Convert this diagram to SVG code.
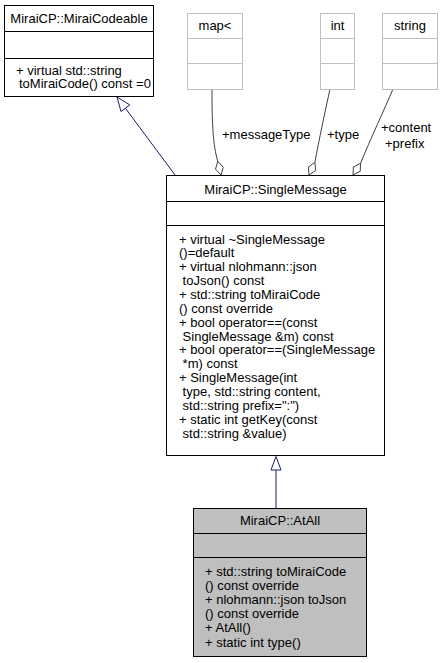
<svg xmlns="http://www.w3.org/2000/svg" width="443" height="663" viewBox="0 0 443 663">
<style>
  text { font-family: "Liberation Sans", Arial, sans-serif; font-size: 13px; fill: #000; }
  .c { text-anchor: middle; }
  .box { fill: #fff; stroke: #000; stroke-width: 1; }
  .cur { fill: #bfbfbf; stroke: #000; stroke-width: 1; }
  .ext { fill: #fff; stroke: #bfbfbf; stroke-width: 1; }
  .dv { stroke: #000; stroke-width: 1; }
  .dvg { stroke: #bfbfbf; stroke-width: 1; }
  .inh { fill: none; stroke: #191970; stroke-width: 1; }
  .inhh { fill: #fff; stroke: #191970; stroke-width: 1; }
  .agg { fill: none; stroke: #404040; stroke-width: 1; }
  .aggh { fill: #fff; stroke: #404040; stroke-width: 1; }
</style>
<rect width="443" height="663" fill="#fff"/>

<g id="connectors">
  <path class="inh" d="M125.4,108.2 L175,175"/>
  <polygon class="inhh" points="117,97 129.8,104.9 121,111.5"/>
  <path class="agg" d="M212,89 C212,125 213,145 217.8,161.4"/>
  <polygon class="aggh" points="221,175 223.3,167.3 217.8,161.4 215.5,169.1"/>
  <path class="agg" d="M330,89 C325,112 319,140 314.9,162.3"/>
  <polygon class="aggh" points="309,175 315.6,170.4 314.9,162.3 308.4,167"/>
  <path class="agg" d="M393,89 C385,108 370,140 360.6,163.2"/>
  <polygon class="aggh" points="353,175 360.2,171.3 360.6,163.2 353.4,167"/>
  <path class="inh" d="M276,470 L276,508"/>
  <polygon class="inhh" points="276,456.5 281,470 271,470"/>
  <text x="222" y="139">+messageType</text>
  <text x="327" y="139">+type</text>
  <text x="381" y="132">+content</text>
  <text x="385" y="147.5">+prefix</text>
</g>

<g id="MiraiCodeable">
  <rect class="box" x="4.5" y="5.5" width="149" height="91"/>
  <line class="dv" x1="4.5" y1="31.5" x2="153.5" y2="31.5"/>
  <line class="dv" x1="4.5" y1="58.5" x2="153.5" y2="58.5"/>
  <text class="c" x="79" y="22.5">MiraiCP::MiraiCodeable</text>
  <text x="16" y="74.5">+ virtual std::string</text>
  <text x="19" y="88">toMiraiCode() const =0</text>
</g>

<g id="map">
  <rect class="ext" x="187.5" y="13.5" width="55" height="76"/>
  <line class="dvg" x1="187.5" y1="38.5" x2="242.5" y2="38.5"/>
  <line class="dvg" x1="187.5" y1="63.5" x2="242.5" y2="63.5"/>
  <text class="c" x="215" y="30">map&lt;</text>
</g>

<g id="int">
  <rect class="ext" x="320.5" y="13.5" width="34" height="76"/>
  <line class="dvg" x1="320.5" y1="38.5" x2="354.5" y2="38.5"/>
  <line class="dvg" x1="320.5" y1="63.5" x2="354.5" y2="63.5"/>
  <text class="c" x="337.5" y="30">int</text>
</g>

<g id="string">
  <rect class="ext" x="382.5" y="13.5" width="55" height="76"/>
  <line class="dvg" x1="382.5" y1="38.5" x2="437.5" y2="38.5"/>
  <line class="dvg" x1="382.5" y1="63.5" x2="437.5" y2="63.5"/>
  <text class="c" x="410" y="30">string</text>
</g>

<g id="SingleMessage">
  <rect class="box" x="166.5" y="175.5" width="218" height="280"/>
  <line class="dv" x1="166.5" y1="201.5" x2="384.5" y2="201.5"/>
  <line class="dv" x1="166.5" y1="225.5" x2="384.5" y2="225.5"/>
  <text class="c" x="275.5" y="193.5">MiraiCP::SingleMessage</text>
  <text x="179" y="243.5">+ virtual ~SingleMessage</text>
  <text x="179" y="257.4">()=default</text>
  <text x="179" y="271.2">+ virtual nlohmann::json</text>
  <text x="182.6" y="285.1">toJson() const</text>
  <text x="179" y="298.9">+ std::string toMiraiCode</text>
  <text x="179" y="312.8">() const override</text>
  <text x="179" y="326.7">+ bool operator==(const</text>
  <text x="182.6" y="340.5">SingleMessage &amp;m) const</text>
  <text x="179" y="354.4">+ bool operator==(SingleMessage</text>
  <text x="182.6" y="368.2">*m) const</text>
  <text x="179" y="382.1">+ SingleMessage(int</text>
  <text x="182.6" y="396">type, std::string content,</text>
  <text x="182.6" y="409.8">std::string prefix=":")</text>
  <text x="179" y="423.7">+ static int getKey(const</text>
  <text x="182.6" y="437.5">std::string &amp;value)</text>
</g>

<g id="AtAll">
  <rect class="cur" x="193.5" y="508.5" width="173" height="148"/>
  <line class="dv" x1="193.5" y1="533.5" x2="366.5" y2="533.5"/>
  <line class="dv" x1="193.5" y1="557.5" x2="366.5" y2="557.5"/>
  <text class="c" x="280" y="525">MiraiCP::AtAll</text>
  <text x="205" y="575.5">+ std::string toMiraiCode</text>
  <text x="205" y="589.7">() const override</text>
  <text x="205" y="603.9">+ nlohmann::json toJson</text>
  <text x="205" y="618.1">() const override</text>
  <text x="205" y="632.3">+ AtAll()</text>
  <text x="205" y="646.5">+ static int type()</text>
</g>
</svg>
